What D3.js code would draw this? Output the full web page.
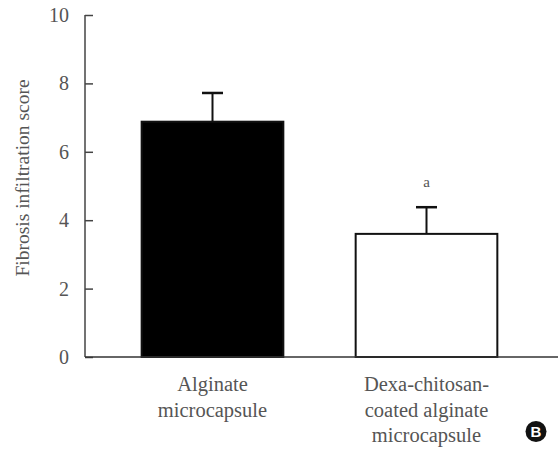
<!DOCTYPE html>
<html>
<head>
<meta charset="utf-8">
<script src="https://cdn.jsdelivr.net/npm/d3@7"></script>
</head>
<body style="margin:0">
<svg id="chart" width="558" height="450"></svg>
<script>
// data
const groups = ["Alginate", "Dexa"];
const groupLabels = [["Alginate", "microcapsule"], ["Dexa-chitosan-", "coated alginate", "microcapsule"]];
const means = [6.88, 3.6];
const errors = [0.84, 0.78];
const fills = ["#000", "#fff"];
const marks = ["", "a"];
const yTicks = [0, 2, 4, 6, 8, 10];

const svg = d3.select("#chart");
const x0 = 85, y0 = 357, yTop = 15;
const grey = "#555";
const serif = "Liberation Serif";

const y = d3.scaleLinear().domain([0, 10]).range([y0, yTop]);
const x = d3.scaleBand().domain(groups).range([105.5, 533.5])
  .paddingInner(0.338).paddingOuter(0.169);

// y axis
const yAxis = d3.axisRight(y).tickValues(yTicks).tickSize(8).tickFormat("");
const gy = svg.append("g").attr("transform", `translate(${x0},0)`).call(yAxis);
gy.select(".domain").remove();
gy.selectAll("line").attr("stroke", "#444").attr("stroke-width", 1.5);
svg.append("line").attr("x1", x0).attr("x2", x0).attr("y1", yTop).attr("y2", y0)
  .attr("stroke", "#444").attr("stroke-width", 1.5);

svg.append("g").selectAll("text").data(yTicks).enter().append("text")
  .attr("x", 69).attr("y", d => y(d)).attr("dy", "0.35em")
  .attr("text-anchor", "end").style("font-size", "20px").attr("fill", grey)
  .style("font-family", serif).text(d => d);

svg.append("text")
  .attr("transform", "translate(28.5,178) rotate(-90)")
  .attr("text-anchor", "middle").style("font-size", "19.5px").attr("fill", grey)
  .style("font-family", serif)
  .text("Fibrosis infiltration score");

// bars
const data = groups.map((g, i) => ({ g, m: means[i], e: errors[i], f: fills[i], mark: marks[i], lab: groupLabels[i] }));

// error bars
const eb = svg.append("g").selectAll("g").data(data).enter().append("g");
eb.append("line")
  .attr("x1", d => x(d.g) + x.bandwidth() / 2).attr("x2", d => x(d.g) + x.bandwidth() / 2)
  .attr("y1", d => y(d.m)).attr("y2", d => y(d.m + d.e))
  .attr("stroke", "#111").attr("stroke-width", 2);
eb.append("line")
  .attr("x1", d => x(d.g) + x.bandwidth() / 2 - 10.5).attr("x2", d => x(d.g) + x.bandwidth() / 2 + 10.5)
  .attr("y1", d => y(d.m + d.e)).attr("y2", d => y(d.m + d.e))
  .attr("stroke", "#111").attr("stroke-width", 2.5);

svg.append("g").selectAll("rect").data(data).enter().append("rect")
  .attr("x", d => x(d.g)).attr("width", x.bandwidth())
  .attr("y", d => y(d.m)).attr("height", d => y0 - y(d.m))
  .attr("fill", d => d.f).attr("stroke", "#111").attr("stroke-width", 2);

svg.append("g").selectAll("text").data(data.filter(d => d.mark)).enter().append("text")
  .attr("x", d => x(d.g) + x.bandwidth() / 2).attr("y", d => y(d.m + d.e) - 20)
  .attr("text-anchor", "middle").style("font-size", "15px").attr("fill", grey)
  .style("font-family", serif).text(d => d.mark);

// x axis
svg.append("line").attr("x1", x0).attr("x2", 558).attr("y1", y0).attr("y2", y0)
  .attr("stroke", "#333").attr("stroke-width", 1.5);

const lab = svg.append("g").selectAll("text").data(data).enter().append("text")
  .attr("x", d => x(d.g) + x.bandwidth() / 2).attr("y", 391)
  .attr("text-anchor", "middle").style("font-size", "20.5px").attr("fill", grey)
  .style("font-family", serif);
lab.selectAll("tspan").data(d => d.lab.map(t => ({ t, cx: x(d.g) + x.bandwidth() / 2 }))).enter().append("tspan")
  .attr("x", t => t.cx).attr("dy", (t, i) => i ? 25.7 : 0).text(t => t.t);

// panel badge
svg.append("circle").attr("cx", 536).attr("cy", 431.5).attr("r", 10.5).attr("fill", "#111");
svg.append("text").attr("x", 536).attr("y", 431.5).attr("dy", "0.36em")
  .attr("text-anchor", "middle").style("font-size", "15px").attr("font-weight", "bold")
  .style("font-family", "Liberation Sans").attr("fill", "#fff").text("B");
</script>
</body>
</html>
